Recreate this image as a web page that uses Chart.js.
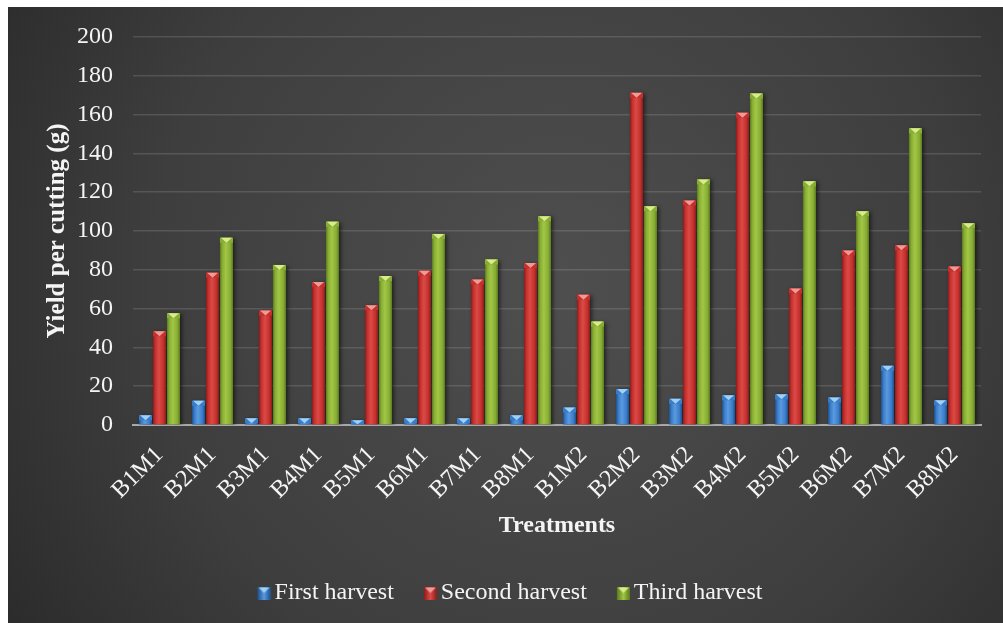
<!DOCTYPE html>
<html>
<head>
<meta charset="utf-8">
<script src="https://cdn.jsdelivr.net/npm/chart.js@4/dist/chart.umd.min.js"></script>
<style>
  html, body { margin: 0; padding: 0; background: #ffffff; }
  #wrap { position: absolute; left: 8px; top: 7px; width: 995px; height: 616px; }
</style>
</head>
<body>
<div id="wrap"><canvas id="chart" width="995" height="616"></canvas></div>
<script>
// Treatments on the x axis
const categories = ['B1M1', 'B2M1', 'B3M1', 'B4M1', 'B5M1', 'B6M1', 'B7M1', 'B8M1',
                    'B1M2', 'B2M2', 'B3M2', 'B4M2', 'B5M2', 'B6M2', 'B7M2', 'B8M2'];

// Yield per cutting (g) for each harvest
const firstHarvest  = [5, 12.5, 3.5, 3.5, 2.5, 3.5, 3.5, 5, 9, 18.5, 13.5, 15.3, 15.8, 14.2, 30.5, 12.7];
const secondHarvest = [48.3, 78.5, 59, 73.7, 61.7, 79.5, 75, 83.5, 67.2, 171.2, 115.7, 161, 70.4, 90, 92.7, 81.7];
const thirdHarvest  = [57.6, 96.5, 82.5, 104.8, 76.8, 98.5, 85.3, 107.6, 53.3, 112.8, 126.6, 170.9, 125.6, 110.2, 152.9, 104];

const seriesNames = ['First harvest', 'Second harvest', 'Third harvest'];

// Colour sets for the bevelled bars: edge, body, highlight, top cap
const palettes = [
  { edge: '#1f4f8a', body: '#3a7cc8', light: '#5a9ae0', cap: '#9fd0f5' },
  { edge: '#8a1c1c', body: '#c3302d', light: '#dc4a46', cap: '#f09a96' },
  { edge: '#5b7a1e', body: '#88ad35', light: '#a2c644', cap: '#d9ec8c' }
];

const FONT = "'Liberation Serif', 'Times New Roman', serif";
const TEXT = '#f4f4f4';

// Small bevelled squares used as legend markers; the square sits in the
// right half of the image so it ends just before the label text
function legendMarker(p) {
  const c = document.createElement('canvas');
  c.width = 26; c.height = 13;
  const g = c.getContext('2d');
  const x0 = 13;
  const grad = g.createLinearGradient(x0, 0, x0 + 13, 0);
  grad.addColorStop(0, p.edge); grad.addColorStop(0.5, p.light); grad.addColorStop(1, p.edge);
  g.fillStyle = grad; g.fillRect(x0, 0, 13, 13);
  g.fillStyle = p.cap;
  g.beginPath(); g.moveTo(x0 + 1, 1); g.lineTo(x0 + 12, 1); g.lineTo(x0 + 6.5, 6.5); g.closePath(); g.fill();
  return c;
}

// Dark vignette backdrop for the whole chart
const backdrop = {
  id: 'backdrop',
  beforeDraw(chart) {
    const { ctx, width, height } = chart;
    const g = ctx.createRadialGradient(width * 0.55, height * 0.45, 20, width * 0.55, height * 0.45, width * 0.72);
    g.addColorStop(0, '#4e4e4e');
    g.addColorStop(0.55, '#3e3e3e');
    g.addColorStop(1, '#262626');
    ctx.save();
    ctx.fillStyle = g;
    ctx.fillRect(0, 0, width, height);
    ctx.restore();
  }
};

// Cylinder-like shading and a bevelled cap on every bar
const bevel = {
  id: 'bevel',
  beforeDatasetsDraw(chart) {
    const ctx = chart.ctx;
    ctx.save();
    ctx.shadowColor = 'rgba(0,0,0,0.55)';
    ctx.shadowBlur = 4;
    ctx.shadowOffsetX = 2;
    ctx.shadowOffsetY = 1;
  },
  afterDatasetsDraw(chart) {
    const ctx = chart.ctx;
    ctx.restore();
    chart.data.datasets.forEach((ds, di) => {
      const meta = chart.getDatasetMeta(di);
      const p = palettes[di];
      meta.data.forEach(el => {
        const { x, y, base, width } = el.getProps(['x', 'y', 'base', 'width'], true);
        const l = x - width / 2, r = x + width / 2;
        const h = base - y;
        if (h <= 0) return;
        const g = ctx.createLinearGradient(l, 0, r, 0);
        g.addColorStop(0, p.edge);
        g.addColorStop(0.18, p.body);
        g.addColorStop(0.45, p.light);
        g.addColorStop(0.8, p.body);
        g.addColorStop(1, p.edge);
        ctx.save();
        ctx.fillStyle = g;
        ctx.fillRect(l, y, width, h);
        const capH = Math.min(5, h);
        ctx.fillStyle = p.body;
        ctx.fillRect(l, y, width, capH);
        ctx.fillStyle = p.cap;
        ctx.beginPath();
        ctx.moveTo(l + 1, y);
        ctx.lineTo(r - 1, y);
        ctx.lineTo(x, y + capH);
        ctx.closePath();
        ctx.fill();
        ctx.restore();
      });
    });
  }
};

const values = [firstHarvest, secondHarvest, thirdHarvest];

new Chart(document.getElementById('chart'), {
  type: 'bar',
  data: {
    labels: categories,
    datasets: values.map((v, i) => ({
      label: seriesNames[i],
      data: v,
      backgroundColor: palettes[i].body,
      borderWidth: 0,
      categoryPercentage: 0.79,
      barPercentage: 0.93,
      pointStyle: legendMarker(palettes[i])
    }))
  },
  options: {
    responsive: false,
    animation: false,
    layout: { padding: { top: 30, right: 22, left: 26, bottom: 8 } },
    plugins: {
      tooltip: { enabled: false },
      legend: {
        position: 'bottom',
        labels: {
          usePointStyle: true,
          pointStyleWidth: 10,
          color: TEXT,
          font: { family: FONT, size: 24 },
          padding: 25
        }
      }
    },
    scales: {
      x: {
        grid: { display: false },
        border: { display: true, color: '#a8a8a8', width: 2 },
        ticks: {
          color: TEXT,
          font: { family: FONT, size: 24 },
          maxRotation: 45,
          minRotation: 45,
          padding: 8
        },
        title: {
          display: true,
          text: 'Treatments',
          color: TEXT,
          font: { family: FONT, size: 24, weight: 'bold' },
          padding: { top: 0, bottom: 16 }
        },
        afterFit(scale) {
          const c = scale.chart;
          scale.height = c.height - 8 - c.legend.height - 418;
        }
      },
      y: {
        min: 0,
        max: 200,
        ticks: {
          stepSize: 20,
          color: TEXT,
          font: { family: FONT, size: 24 },
          padding: 0
        },
        grid: {
          color: 'rgba(255,255,255,0.13)',
          lineWidth: 1.5,
          drawTicks: true,
          tickLength: 20,
          tickColor: 'rgba(0,0,0,0)'
        },
        border: { display: false },
        title: {
          display: true,
          text: 'Yield per cutting (g)',
          color: TEXT,
          font: { family: FONT, size: 25, weight: 'bold' },
          padding: { top: 8.5, bottom: 0 }
        },
        afterFit(scale) { scale.width = 99; }
      }
    }
  },
  plugins: [backdrop, bevel]
});
</script>
</body>
</html>
